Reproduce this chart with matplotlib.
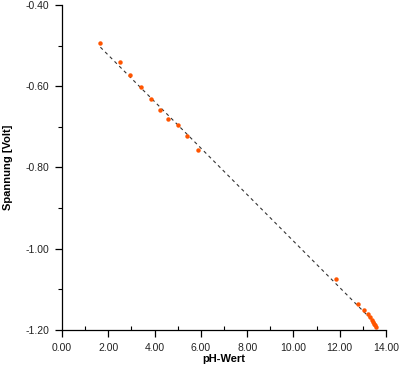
import matplotlib
matplotlib.use('Agg')
import matplotlib.pyplot as plt
import numpy as np
from matplotlib.ticker import MultipleLocator, FormatStrFormatter

# pH values and measured voltages
ph = [1.66, 2.49, 2.95, 3.41, 3.83, 4.22, 4.59, 5.00, 5.39, 5.89,
      11.84, 12.80, 13.05, 13.21, 13.31, 13.38, 13.44, 13.50, 13.54, 13.58]
volt = [-0.494, -0.541, -0.572, -0.603, -0.632, -0.659, -0.680, -0.696, -0.723, -0.757,
        -1.075, -1.135, -1.150, -1.160, -1.169, -1.176, -1.180, -1.184, -1.188, -1.193]

plt.rcParams['font.family'] = ['Liberation Sans', 'DejaVu Sans']

fig = plt.figure(figsize=(4.0, 3.67), dpi=100)
ax = fig.add_axes([0.155, 0.1008, 0.81, 0.8856])

# linear fit
k, d = np.polyfit(ph, volt, 1)
xs = np.array([min(ph), max(ph)])
ax.plot(xs, k * xs + d, linestyle=(0, (3, 3)), color='#333333', linewidth=0.8, zorder=1)
ax.plot(ph, volt, linestyle='none', marker='o', markersize=3.2, color='#ff5500',
        markeredgewidth=0, zorder=2)

ax.set_xlim(0, 14)
ax.set_ylim(-1.2, -0.4)
ax.xaxis.set_major_locator(MultipleLocator(2))
ax.xaxis.set_minor_locator(MultipleLocator(1))
ax.yaxis.set_major_locator(MultipleLocator(0.2))
ax.yaxis.set_minor_locator(MultipleLocator(0.1))
ax.xaxis.set_major_formatter(FormatStrFormatter('%.2f'))
ax.yaxis.set_major_formatter(FormatStrFormatter('%.2f'))

for s in ['top', 'right']:
    ax.spines[s].set_visible(False)
for s in ['left', 'bottom']:
    ax.spines[s].set_linewidth(0.9)

ax.tick_params(which='major', direction='out', length=5, width=0.9, labelsize=7.5,
               pad=4, labelcolor='#222222')
ax.tick_params(axis='x', which='minor', direction='in', length=3, width=0.8)
ax.tick_params(axis='y', which='minor', direction='out', length=3, width=0.8)

ax.set_xlabel('pH-Wert', fontsize=8, fontweight='bold', labelpad=1)
ax.set_ylabel('Spannung [Volt]', fontsize=8, fontweight='bold', labelpad=9)

fig.savefig('out.png', dpi=100)
